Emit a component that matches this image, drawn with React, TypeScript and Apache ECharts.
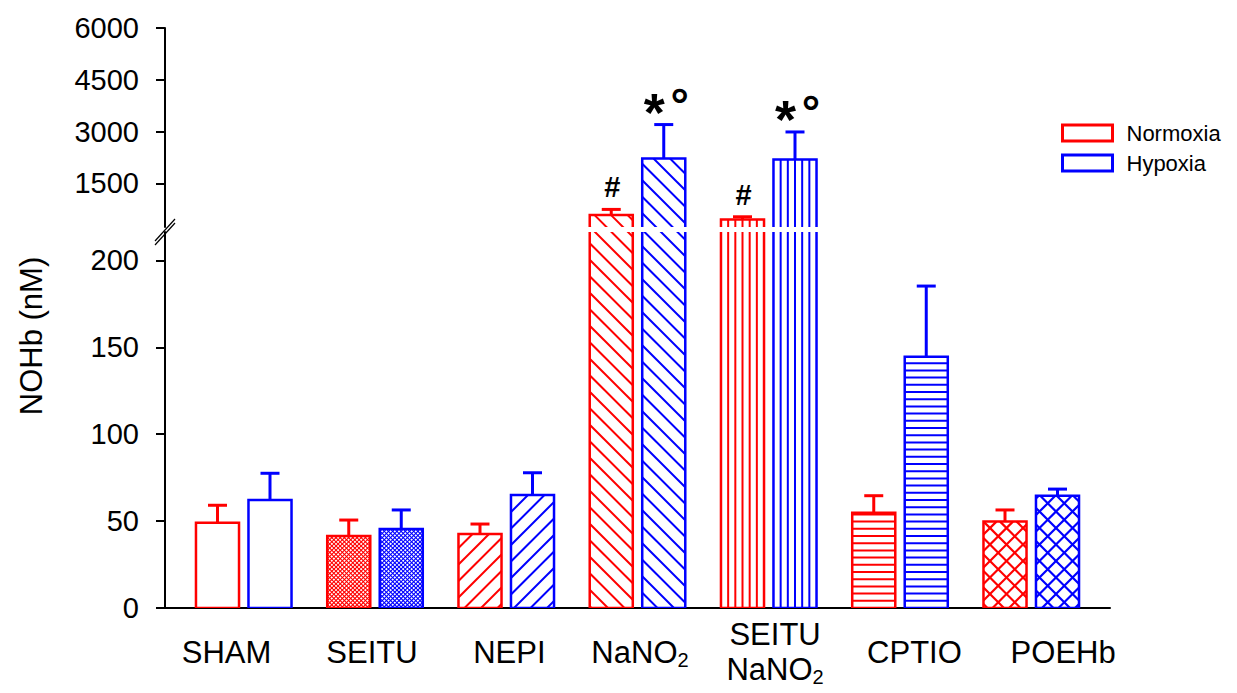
import React, { useEffect, useRef } from 'react';
import * as echarts from 'echarts';

// ---------- data ----------
const categories = ['SHAM', 'SEITU', 'NEPI', 'NaNO2', 'SEITU\nNaNO2', 'CPTIO', 'POEHb'];
const seriesNames = ['Normoxia', 'Hypoxia'];
const normoxiaMean = [49.1, 41.4, 42.6, 584, 460, 54.8, 49.7];
const normoxiaErr = [10.0, 9.2, 5.7, 165, 76, 9.8, 6.7];
const hypoxiaMean = [62.1, 45.4, 65.0, 2223, 2194, 144.6, 64.6];
const hypoxiaErr = [15.4, 11.0, 12.8, 982, 797, 40.6, 3.8];
const normoxiaMarks = ['', '', '', '#', '#', '', ''];
const hypoxiaMarks = ['', '', '', '*°', '*°', '', ''];
const patterns = ['none', 'dots', 'up', 'down', 'vertical', 'horizontal', 'cross'];
const lowerTicks = [0, 50, 100, 150, 200];
const upperTicks = [1500, 3000, 4500, 6000];
// where each category label sits on the x axis (labels are hand-placed in the original)
const labelPositions = [-0.131, 0.977, 2.024, 3.019, 4.048, 5.11, 6.243];

const RED = '#ff0000';
const BLUE = '#0000ff';
const FONT = "'Liberation Sans', Arial, Helvetica, sans-serif";

function labelText(name: string) {
  return name.replace(/NaNO2/g, 'NaNO{s|2}');
}

function hatch(kind: string, x0: number, y0: number, x1: number, y1: number, color: string, out: any[]) {
  const line = (xa: number, ya: number, xb: number, yb: number, w: number) =>
    out.push({ type: 'line', shape: { x1: xa, y1: ya, x2: xb, y2: yb }, style: { stroke: color, lineWidth: w } });
  const up = (s: number, w: number) => {
    const start = Math.ceil((x0 + y0) / s) * s;
    for (let c = start; c < x1 + y1; c += s) {
      const xa = Math.max(x0, c - y1);
      const xb = Math.min(x1, c - y0);
      if (xb > xa) line(xa, c - xa, xb, c - xb, w);
    }
  };
  const down = (s: number, w: number) => {
    const start = Math.ceil((x0 - y1) / s) * s;
    for (let c = start; c < x1 - y0; c += s) {
      const xa = Math.max(x0, c + y0);
      const xb = Math.min(x1, c + y1);
      if (xb > xa) line(xa, xa - c, xb, xb - c, w);
    }
  };
  if (kind === 'horizontal') {
    const s = 7.2;
    for (let y = y1 - s; y > y0 + 1; y -= s) line(x0, y, x1, y, 2);
  } else if (kind === 'vertical') {
    const s = (x1 - x0) / 6;
    for (let k = 1; k < 6; k++) line(x0 + k * s, y0, x0 + k * s, y1, 2);
  } else if (kind === 'up') {
    up(16.5, 2);
  } else if (kind === 'down') {
    down(16.5, 2);
  } else if (kind === 'cross') {
    up(16.5, 2.2);
    down(16.5, 2.2);
  } else if (kind === 'dots') {
    up(4.2, 1.1);
    down(4.2, 1.1);
  }
}

function makeRenderItem(side: number, color: string, marks: string[]) {
  return (params: any, api: any) => {
    const i = api.value(0);
    const mean = api.value(1);
    const err = api.value(2);
    const unit = api.size([1, 0])[0];
    const basePt = api.coord([i, 0]);
    const cx = basePt[0] + side * 0.2 * unit;
    const bw = 0.328 * unit;
    const cs = params.coordSys;
    const yBase = basePt[1];
    const yTop = api.coord([i, mean])[1];
    const yErr = api.coord([i, mean + err])[1];
    const lo = cs.y - 10;
    const hi = cs.y + cs.height + 10;
    const y0 = Math.max(yTop, lo);
    const y1 = Math.min(yBase, hi);
    const x0 = cx - bw / 2;
    const x1 = cx + bw / 2;
    const children: any[] = [];
    if (y1 > y0) {
      children.push({ type: 'rect', shape: { x: x0, y: y0, width: bw, height: y1 - y0 }, style: { fill: '#fff' } });
      hatch(patterns[i], x0, y0, x1, y1, color, children);
      children.push({
        type: 'rect',
        shape: { x: x0, y: y0, width: bw, height: y1 - y0 },
        style: { fill: 'none', stroke: color, lineWidth: 2.5 },
      });
    }
    const ea = Math.max(yErr, lo);
    const eb = Math.min(yTop, hi);
    if (eb > ea) {
      children.push({ type: 'line', shape: { x1: cx, y1: ea, x2: cx, y2: eb }, style: { stroke: color, lineWidth: 3 } });
    }
    if (yErr >= lo && yErr <= hi) {
      children.push({ type: 'line', shape: { x1: cx - 9.5, y1: yErr, x2: cx + 9.5, y2: yErr }, style: { stroke: color, lineWidth: 3 } });
    }
    const mark = marks[i];
    if (mark && yErr > cs.y + 20 && yErr < cs.y + cs.height) {
      if (mark === '#') {
        children.push({
          type: 'text',
          x: cx + 1,
          y: yErr - 22,
          style: { text: mark, fill: '#000', font: `bold 29px ${FONT}`, align: 'center', verticalAlign: 'middle' },
        });
      } else {
        const chars = mark.split('');
        children.push({
          type: 'text',
          x: cx - 9.5,
          y: yErr - 12.5,
          style: { text: chars[0], fill: '#000', font: `bold 54px ${FONT}`, align: 'center', verticalAlign: 'middle' },
        });
        children.push({
          type: 'text',
          x: cx + 16,
          y: yErr - 19.5,
          style: { text: chars[1], fill: '#000', font: `bold 46px ${FONT}`, align: 'center', verticalAlign: 'middle' },
        });
      }
    }
    return { type: 'group', children };
  };
}

export default function App() {
  const ref = useRef<HTMLDivElement>(null);
  useEffect(() => {
    if (!ref.current) return;
    const chart = echarts.init(ref.current, null, { renderer: 'svg' });
    const means = [normoxiaMean, hypoxiaMean];
    const errs = [normoxiaErr, hypoxiaErr];
    const marks = [normoxiaMarks, hypoxiaMarks];
    const colors = [RED, BLUE];
    const series: any[] = [];
    for (let g = 0; g < 2; g++) {
      for (let s = 0; s < 2; s++) {
        series.push({
          type: 'custom',
          name: seriesNames[s],
          xAxisIndex: g,
          yAxisIndex: g,
          clip: true,
          silent: true,
          itemStyle: { color: colors[s] },
          renderItem: makeRenderItem(s === 0 ? -1 : 1, colors[s], marks[s]),
          encode: { x: 0, y: 1 },
          data: categories.map((_, i) => [i, means[s][i], errs[s][i]]),
        });
      }
    }
    const yAxisCommon = (gridIndex: number, min: number, max: number, ticks: number[]) => ({
      gridIndex,
      type: 'value',
      min,
      max,
      axisLine: { show: true, onZero: false, lineStyle: { color: '#000', width: 2 } },
      axisTick: { show: true, inside: false, length: 9, customValues: ticks, lineStyle: { color: '#000', width: 2 } },
      axisLabel: {
        customValues: ticks,
        formatter: (v: number) => String(v),
        fontSize: 29,
        margin: 26,
        color: '#000',
        fontFamily: FONT,
      },
      splitLine: { show: false },
    });
    chart.setOption({
      animation: false,
      backgroundColor: '#fff',
      grid: [
        { left: 165, top: 28, width: 945, height: 199 },
        { left: 165, top: 232, width: 945, height: 376 },
      ],
      xAxis: [
        { gridIndex: 0, type: 'value', min: -0.6, max: 6.6, show: false },
        {
          gridIndex: 1,
          type: 'value',
          min: -0.6,
          max: 6.6,
          axisLine: { show: true, onZero: false, lineStyle: { color: '#000', width: 2 } },
          axisTick: { show: false },
          splitLine: { show: false },
          axisLabel: {
            customValues: labelPositions,
            formatter: (v: number) => {
              let best = 0;
              labelPositions.forEach((p, k) => {
                if (Math.abs(p - v) < Math.abs(labelPositions[best] - v)) best = k;
              });
              return labelText(categories[best]);
            },
            fontSize: 31,
            lineHeight: 35,
            margin: 44,
            verticalAlign: 'middle',
            color: '#000',
            fontFamily: FONT,
            rich: {
              s: { fontSize: 20, lineHeight: 8, verticalAlign: 'bottom', color: '#000', fontFamily: FONT },
            },
          },
        },
      ],
      yAxis: [yAxisCommon(0, 240, 6000, upperTicks), yAxisCommon(1, 0, 216.3, lowerTicks)],
      legend: {
        orient: 'vertical',
        left: 1061,
        top: 122,
        padding: 0,
        itemWidth: 50,
        itemHeight: 16,
        itemGap: 8,
        selectedMode: false,
        textStyle: { fontSize: 22, fontFamily: FONT, color: '#000', padding: [0, 0, 0, 9] },
        data: [
          { name: seriesNames[0], icon: 'rect', itemStyle: { color: '#fff', borderColor: RED, borderWidth: 3 } },
          { name: seriesNames[1], icon: 'rect', itemStyle: { color: '#fff', borderColor: BLUE, borderWidth: 3 } },
        ],
      },
      graphic: [
        {
          type: 'text',
          x: 31,
          y: 336,
          rotation: Math.PI / 2,
          style: { text: 'NOHb (nM)', font: `31px ${FONT}`, fill: '#000', align: 'center', verticalAlign: 'middle' },
        },
        { type: 'line', shape: { x1: 155, y1: 241, x2: 175, y2: 219 }, style: { stroke: '#000', lineWidth: 1.2 } },
        { type: 'line', shape: { x1: 155, y1: 245, x2: 175, y2: 223 }, style: { stroke: '#000', lineWidth: 1.2 } },
      ],
      series,
    });
    return () => chart.dispose();
  }, []);
  return <div ref={ref} style={{ position: 'fixed', left: 0, top: 0, width: 1237, height: 693 }} />;
}
